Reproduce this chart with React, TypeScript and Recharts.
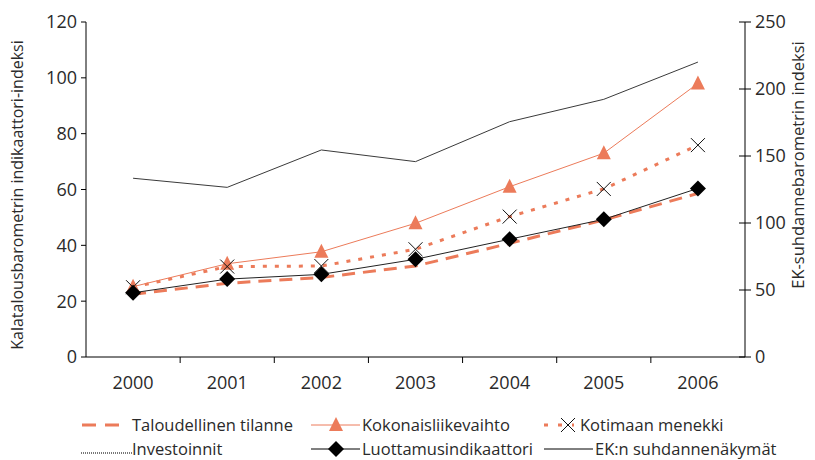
import React from 'react';
import { LineChart, Line, XAxis, YAxis } from 'recharts';

const years = ['2000', '2001', '2002', '2003', '2004', '2005', '2006'];
const taloudellinen = [22.5, 26.4, 28.5, 32.6, 40.7, 49.1, 58.6];
const kokonaisliikevaihto = [25.2, 33.4, 37.7, 47.9, 61.0, 73.0, 98.0];
const kotimaanMenekki = [25.0, 32.4, 32.6, 38.6, 50.3, 60.2, 75.9];
const investoinnit: (number | null)[] = [null, null, null, null, null, null, null];
const luottamus = [23.0, 27.9, 29.6, 35.0, 42.2, 49.3, 60.4];
const ekSuhdanne = [133.4, 126.6, 154.5, 145.8, 175.6, 192.3, 220.1];

const leftTicks = [0, 20, 40, 60, 80, 100, 120];
const rightTicks = [0, 50, 100, 150, 200, 250];

const data = years.map((year, i) => ({
  year,
  taloudellinen: taloudellinen[i],
  kokonais: kokonaisliikevaihto[i],
  kotimaan: kotimaanMenekki[i],
  investoinnit: investoinnit[i],
  luottamus: luottamus[i],
  ek: ekSuhdanne[i],
}));

const ORANGE = '#ec7b5a';
const TEXT = '#2a2a2a';
const FONT = '"Open Sans", "DejaVu Sans", sans-serif';
const BAND = 659 / 7;

const Triangle = (props: any) => {
  const { cx, cy } = props;
  if (cx == null || cy == null) return null;
  return <polygon points={`${cx},${cy - 8} ${cx - 7},${cy + 6} ${cx + 7},${cy + 6}`} fill={ORANGE} />;
};

const Cross = (props: any) => {
  const { cx, cy } = props;
  if (cx == null || cy == null) return null;
  return (
    <g stroke="#111" strokeWidth={1}>
      <line x1={cx - 7} y1={cy - 7} x2={cx + 7} y2={cy + 7} />
      <line x1={cx - 7} y1={cy + 7} x2={cx + 7} y2={cy - 7} />
    </g>
  );
};

const Diamond = (props: any) => {
  const { cx, cy } = props;
  if (cx == null || cy == null) return null;
  return <polygon points={`${cx},${cy - 8} ${cx + 8},${cy} ${cx},${cy + 8} ${cx - 8},${cy}`} fill="#000" />;
};

const XTick = (props: any) => {
  const { x, y, payload, index } = props;
  return (
    <g>
      {index > 0 && <line x1={x - BAND / 2} y1={y} x2={x - BAND / 2} y2={y + 6} stroke="#000" />}
      <text x={x} y={y + 32} textAnchor="middle" fontSize={18} fontFamily={FONT} fill={TEXT}>
        {payload.value}
      </text>
    </g>
  );
};

const RightTick = (props: any) => {
  const { x, y, payload } = props;
  return (
    <g>
      <line x1={x - 16} y1={y} x2={x - 4} y2={y} stroke="#000" />
      <text x={x} y={y} dy={6} textAnchor="start" fontSize={18} fontFamily={FONT} fill={TEXT}>
        {payload.value}
      </text>
    </g>
  );
};

const legendItems = [
  { label: 'Taloudellinen tilanne', icon: 'dash', left: 80, top: 414 },
  { label: 'Kokonaisliikevaihto', icon: 'triangle', left: 310, top: 414 },
  { label: 'Kotimaan menekki', icon: 'cross', left: 540, top: 414 },
  { label: 'Investoinnit', icon: 'dotted', left: 80, top: 438 },
  { label: 'Luottamusindikaattori', icon: 'diamond', left: 310, top: 438 },
  { label: 'EK:n suhdannenäkymät', icon: 'line', left: 543, top: 438 },
];

function LegendIcon({ icon }: { icon: string }) {
  const w = 52;
  switch (icon) {
    case 'dash':
      return (
        <svg width={w} height={20}>
          <line x1={2} y1={10} x2={45} y2={10} stroke={ORANGE} strokeWidth={3} strokeDasharray="14 9" />
        </svg>
      );
    case 'triangle':
      return (
        <svg width={w} height={20}>
          <line x1={1} y1={10} x2={50} y2={10} stroke={ORANGE} strokeWidth={1} />
          <Triangle cx={26} cy={10} />
        </svg>
      );
    case 'cross':
      return (
        <svg width={40} height={20}>
          <line x1={4} y1={10} x2={34} y2={10} stroke={ORANGE} strokeWidth={3} strokeDasharray="4 10" />
          <Cross cx={28} cy={10} />
        </svg>
      );
    case 'dotted':
      return (
        <svg width={w} height={20}>
          <line x1={1} y1={14} x2={52} y2={14} stroke="#777" strokeWidth={2} strokeDasharray="1 1" />
        </svg>
      );
    case 'diamond':
      return (
        <svg width={w} height={20}>
          <line x1={1} y1={10} x2={50} y2={10} stroke="#000" strokeWidth={1} />
          <Diamond cx={26} cy={10} />
        </svg>
      );
    default:
      return (
        <svg width={w} height={20}>
          <line x1={1} y1={10} x2={50} y2={10} stroke="#000" strokeWidth={1} />
        </svg>
      );
  }
}

export default function App() {
  return (
    <div style={{ position: 'absolute', left: 0, top: 0, width: 815, height: 460, background: '#fff' }}>
      <LineChart width={815} height={460} data={data} margin={{ top: 22, right: 0, bottom: 63, left: 0 }}>
        <XAxis
          dataKey="year"
          height={40}
          tickLine={false}
          tickSize={0}
          tickMargin={0}
          tick={<XTick />}
          axisLine={{ stroke: '#000' }}
          interval={0}
          padding={{ left: BAND / 2, right: BAND / 2 }}
        />
        <YAxis
          yAxisId="left"
          width={86}
          domain={[0, 120]}
          ticks={leftTicks}
          tickSize={5}
          tickMargin={4}
          axisLine={{ stroke: '#000' }}
          tickLine={{ stroke: '#000' }}
          tick={{ fontSize: 18, fontFamily: FONT, fill: TEXT }}
          label={{
            content: () => (
              <text transform="translate(23,195) rotate(-90)" textAnchor="middle" fontSize={16} fontFamily={FONT} fill={TEXT}>
                Kalatalousbarometrin indikaattori-indeksi
              </text>
            ),
          }}
        />
        <YAxis
          yAxisId="right"
          orientation="right"
          width={70}
          domain={[0, 250]}
          ticks={rightTicks}
          tickSize={6}
          tickMargin={4}
          tickLine={false}
          axisLine={{ stroke: '#000' }}
          tick={<RightTick />}
          label={{
            content: () => (
              <text transform="translate(804,165) rotate(-90)" textAnchor="middle" fontSize={16.5} fontFamily={FONT} fill={TEXT}>
                EK-suhdannebarometrin indeksi
              </text>
            ),
          }}
        />
        <Line yAxisId="left" dataKey="taloudellinen" stroke={ORANGE} strokeWidth={3} strokeDasharray="13 8" dot={false} isAnimationActive={false} />
        <Line yAxisId="left" dataKey="kokonais" stroke={ORANGE} strokeWidth={1} dot={<Triangle />} isAnimationActive={false} />
        <Line yAxisId="left" dataKey="kotimaan" stroke={ORANGE} strokeWidth={3} strokeDasharray="4 8" dot={<Cross />} isAnimationActive={false} />
        <Line yAxisId="left" dataKey="investoinnit" stroke="#777" strokeWidth={2} strokeDasharray="1 1" dot={false} isAnimationActive={false} />
        <Line yAxisId="left" dataKey="luottamus" stroke="#222" strokeWidth={1} dot={<Diamond />} isAnimationActive={false} />
        <Line yAxisId="right" dataKey="ek" stroke="#3a3a3a" strokeWidth={1} dot={false} isAnimationActive={false} />
      </LineChart>
      {legendItems.map((item) => (
        <div
          key={item.label}
          style={{
            position: 'absolute',
            left: item.left,
            top: item.top,
            display: 'flex',
            alignItems: 'center',
            fontFamily: FONT,
            fontSize: 16.5,
            color: TEXT,
            whiteSpace: 'nowrap',
            lineHeight: '22px',
          }}
        >
          <LegendIcon icon={item.icon} />
          <span>{item.label}</span>
        </div>
      ))}
    </div>
  );
}
